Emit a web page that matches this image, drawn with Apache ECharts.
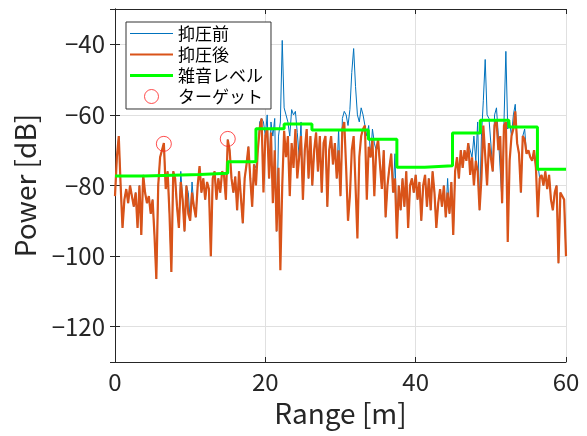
<!DOCTYPE html>
<html>
<head>
<meta charset="utf-8">
<script src="https://cdn.jsdelivr.net/npm/echarts@6/dist/echarts.min.js"></script>
<style>html,body{margin:0;padding:0;background:#fff;}#c{width:587px;height:436px;}</style>
</head>
<body>
<div id="c"></div>
<script>
// Range grid step (m) and values
const rangeStep = 0.25;
const before = [
 -83,-72,-66,-80,-92,-84,-81,-85,-80,-83,-86,-82,-92,-80,-94,-77,
 -82,-85,-83,-88,-84,-94,-106.5,-80,-72,-70,-68,-81,-76,-88,-104.5,-76,
 -78,-86,-92,-76,-84,-93,-80,-82,-90,-79,-86,-89,-80,-74.5,-82,-78,
 -84,-79,-81,-100,-78,-76,-84,-78,-82,-76,-77,-84,-67,-70,-78,-82,
 -77.5,-87,-76,-75.7,-90.7,-78,-74,-69,-78,-86,-74,-75,-70,-62,-61,-62,
 -66,-60,-78,-62,-66,-61,-93,-66,-62,-38.9,-58,-60,-62,-66,-58.5,-60,
 -59,-65,-72,-62,-84,-70,-64,-78,-66,-80,-70,-65,-76,-66,-82,-68,
 -66,-86,-70,-66,-74,-68,-78,-64,-83,-61,-59,-60,
 -63,-58.5,-48,-41.2,-52,-60,-62,-58,-60,-63,-66,-63,-72,-64,-68,-70,
 -67,-74,-81,-70,-89,-80,-75,-71,-82,-71,-95,-80,-87,-78,-86,-76,
 -92,-80,-78,-82,-77,-84,-79,-90,-80,-77,-86,-78,-87,-76,-82,-92,
 -85,-81,-86,-80,-89,-78,-88,-79,-94,-76,-72,-78,
 -70,-75,-70,-73,-68,-68,-72,-66,-73,-62,-87,-66,-56,-44.3,-60,-61,
 -68,-76,-60,-58,-66,-66,-85,-62,-42,-64,-62,-66,-60,-57,-68,-71,
 -82,-66,-64,-71,-70,-72,-73,-70,-75,-74,-78,-77,-80,-76,-81,-77,
 -84,-87,-82,-80,-102,-82,-83,-84,-100
];
const after = [
 -83,-72,-66,-80,-92,-84,-81,-85,-80,-83,-86,-82,-92,-80,-94,-77,
 -82,-85,-83,-88,-84,-94,-106.5,-80,-72,-70,-68,-81,-76,-88,-104.5,-76,
 -78,-86,-92,-79,-84,-93,-80,-88,-90,-82,-86,-89,-80,-74.5,-82,-78,
 -84,-79,-81,-100,-78,-76,-84,-78,-82,-76,-77,-84,-67,-70,-78,-82,
 -77.5,-87,-76,-75.7,-90.7,-78,-74,-69,-78,-86,-74,-80,-70,-64,-61,-82,
 -66,-64,-78,-65,-85,-70,-93,-75,-104,-80,-64.5,-72,-66,-83,-68,-75,
 -64,-78,-72,-66,-84,-70,-64,-78,-66,-80,-70,-65,-76,-66,-82,-68,
 -66,-86,-70,-66,-74,-68,-78,-70,-83,-64,-62,-75,
 -90,-83,-70,-66,-80,-95,-72,-66,-64,-63,-84,-69,-72,-67,-83,-70,
 -67,-74,-81,-70,-89,-80,-75,-71,-82,-78,-95,-80,-87,-78,-86,-76,
 -92,-80,-78,-82,-77,-84,-79,-90,-80,-77,-86,-78,-87,-76,-82,-92,
 -85,-81,-86,-80,-89,-82,-88,-79,-94,-76,-72,-78,
 -70,-75,-70,-73,-68,-77,-72,-80,-73,-76,-87,-78,-63,-62.5,-80,-68,
 -72,-76,-63,-61.5,-70,-66,-85,-63,-62,-96,-73,-66,-64,-59,-68,-71,
 -82,-66,-67,-71,-70,-72,-73,-70,-75,-89,-78,-77,-80,-76,-81,-77,
 -84,-87,-82,-80,-102,-82,-83,-84,-100
];
// noise level steps: start positions (m) and levels (dB)
const noiseStart = [0, 3.9, 11.3, 15.0, 18.75, 22.5, 26.2, 33.7, 37.5, 41.2, 44.9, 48.6, 52.4, 56.2, 60];
const noiseLevel = [-77.3, -76.9, -76.5, -73.3, -63.9, -62.6, -64.3, -66.9, -74.8, -74.4, -65.1, -61.5, -63.4, -75.4, -75.4];
// targets
const targetRange = [6.5, 15.0];
const targetPower = [-68.2, -66.8];
const xTicks = [0, 20, 40, 60];

const FONT = '"Noto Sans CJK JP", "Noto Sans", sans-serif';
const pair = arr => arr.map((v, i) => [i * rangeStep, v]);
const noiseData = noiseStart.map((x, i) => [x, noiseLevel[i]]);
const targetData = targetRange.map((x, i) => [x, targetPower[i]]);
const minus = v => String(v).replace('-', '\u2212');

const chart = echarts.init(document.getElementById('c'), null, {renderer: 'canvas'});
const axisLineStyle = {color: '#262626', width: 1};
const common = {
  axisLine: {show: true, lineStyle: axisLineStyle},
  axisTick: {show: true, inside: true, length: 5, lineStyle: axisLineStyle}
};
chart.setOption({
  animation: false,
  backgroundColor: '#fff',
  grid: {left: 115, right: 21, top: 9, bottom: 74},
  legend: {
    orient: 'vertical', left: 126, top: 22,
    backgroundColor: '#fff', borderColor: '#333', borderWidth: 1, borderRadius: 0,
    padding: [3, 8, 4, 4], itemWidth: 43, itemHeight: 14, itemGap: 4,
    textStyle: {fontFamily: FONT, fontSize: 17, lineHeight: 16, color: '#000'},
    data: [
      {name: '抑圧前', icon: 'path://M0 0H43V1H0Z'},
      {name: '抑圧後', icon: 'path://M0 0H43V2H0Z'},
      {name: '雑音レベル', icon: 'path://M0 0H43V3H0Z'},
      {name: 'ターゲット', icon: 'circle',
        itemStyle: {color: 'rgba(0,0,0,0)', borderColor: '#FF2020', borderWidth: 1}}
    ]
  },
  xAxis: [
    Object.assign({type: 'value', min: 0, max: 60, interval: 20, position: 'bottom',
      axisLabel: {fontFamily: FONT, fontSize: 24, color: '#262626', margin: 8,
        customValues: xTicks, formatter: minus},
      splitLine: {show: true, lineStyle: {color: '#e0e0e0', width: 1}},
      name: 'Range [m]', nameLocation: 'middle', nameGap: 37,
      nameTextStyle: {fontFamily: FONT, fontSize: 28, color: '#262626'}}, common),
    Object.assign({type: 'value', min: 0, max: 60, interval: 20, position: 'top',
      axisLabel: {show: false}, splitLine: {show: false}}, common)
  ],
  yAxis: [
    Object.assign({type: 'value', min: -130, max: -30, splitNumber: 5, position: 'left',
      axisLabel: {fontFamily: FONT, fontSize: 24, color: '#262626', margin: 10,
        showMinLabel: false, showMaxLabel: false, formatter: minus},
      splitLine: {show: true, lineStyle: {color: '#e0e0e0', width: 1}},
      name: 'Power [dB]', nameLocation: 'middle', nameGap: 76, nameRotate: 90,
      nameTextStyle: {fontFamily: FONT, fontSize: 28, color: '#262626'}}, common),
    Object.assign({type: 'value', min: -130, max: -30, splitNumber: 5, position: 'right',
      axisLabel: {show: false}, splitLine: {show: false}}, common)
  ],
  series: [
    {name: '抑圧前', type: 'line', data: pair(before), symbol: 'none',
      lineStyle: {color: '#0072BD', width: 1}, itemStyle: {color: '#0072BD'}, z: 2},
    {name: '抑圧後', type: 'line', data: pair(after), symbol: 'none',
      lineStyle: {color: '#D95319', width: 2.2}, itemStyle: {color: '#D95319'}, z: 3},
    {name: '雑音レベル', type: 'line', data: noiseData, step: 'end', symbol: 'none',
      lineStyle: {color: '#00FF00', width: 3}, itemStyle: {color: '#00FF00'}, z: 4},
    {name: 'ターゲット', type: 'scatter', data: targetData, symbol: 'circle', symbolSize: 15,
      itemStyle: {color: 'rgba(0,0,0,0)', borderColor: '#FF2020', borderWidth: 1}, z: 5}
  ]
});
</script>
</body>
</html>
